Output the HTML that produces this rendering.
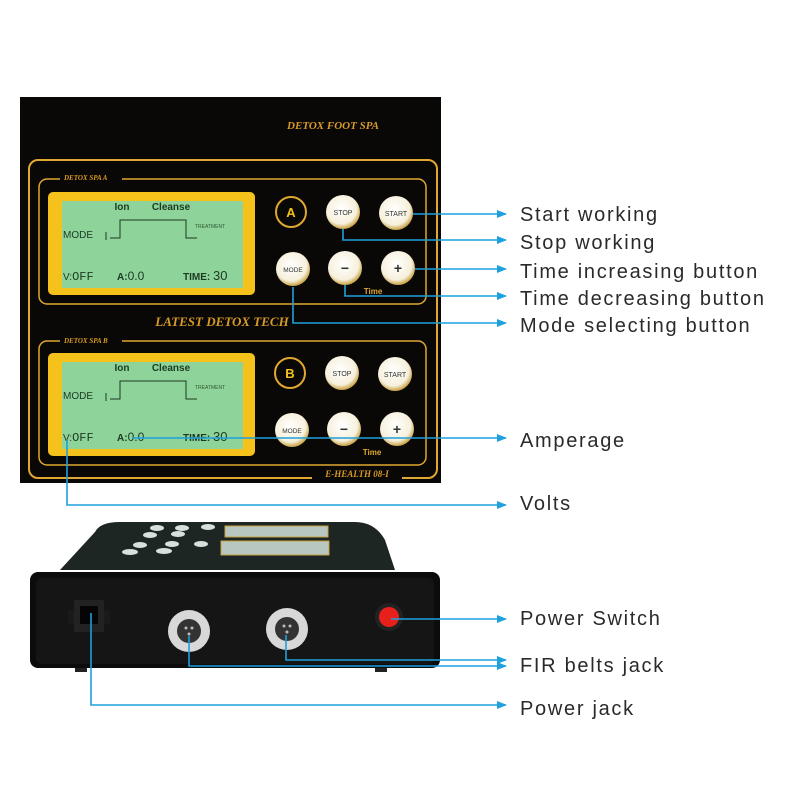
<!DOCTYPE html>
<html><head><style>
body{margin:0;background:#fff;width:800px;height:800px;overflow:hidden;font-family:"Liberation Sans",sans-serif}
.lbl{position:absolute;left:520px;font-size:20px;color:#2a2a2a;letter-spacing:1.7px;line-height:1}
</style></head><body>
<svg width="800" height="800" style="position:absolute;left:0;top:0" font-family="Liberation Sans, sans-serif">
<defs>
<radialGradient id="btn" cx="45%" cy="40%" r="60%"><stop offset="0" stop-color="#fff"/><stop offset="0.75" stop-color="#f6f0dc"/><stop offset="1" stop-color="#c8a040"/></radialGradient>
<marker id="ar" markerWidth="10" markerHeight="8" refX="9" refY="4" orient="auto" markerUnits="userSpaceOnUse"><path d="M0,0 L10,4 L0,8 Z" fill="#1ea0dc"/></marker>
</defs>
<rect x="20" y="97" width="421" height="386" fill="#0a0806"/>
<text x="333" y="129" fill="#d89a28" font-size="11" font-style="italic" font-weight="bold" font-family="Liberation Serif, serif" text-anchor="middle">DETOX  FOOT SPA</text>
<rect x="29" y="160" width="408" height="318" rx="9" fill="none" stroke="#e0a830" stroke-width="2"/>
<rect x="39" y="179" width="387" height="125" rx="8" fill="none" stroke="#e0a830" stroke-width="1.5"/>
<rect x="39" y="341" width="387" height="124" rx="8" fill="none" stroke="#e0a830" stroke-width="1.5"/>
<rect x="60" y="172" width="62" height="12" fill="#0a0806"/>
<text x="64" y="180" fill="#d89a28" font-size="7" font-style="italic" font-weight="bold" font-family="Liberation Serif, serif">DETOX SPA A</text>
<rect x="60" y="334" width="62" height="12" fill="#0a0806"/>
<text x="64" y="343" fill="#d89a28" font-size="7" font-style="italic" font-weight="bold" font-family="Liberation Serif, serif">DETOX SPA B</text>
<text x="222" y="326" fill="#d89a28" font-size="13" font-style="italic" font-weight="bold" font-family="Liberation Serif, serif" text-anchor="middle">LATEST DETOX  TECH</text>
<rect x="312" y="468" width="90" height="12" fill="#0a0806"/>
<text x="357" y="477" fill="#d89a28" font-size="9" font-style="italic" font-weight="bold" font-family="Liberation Serif, serif" text-anchor="middle">E-HEALTH 08-I</text>
<g id="lcdA">
<rect x="48" y="192" width="207" height="103" rx="5" fill="#f4c21a"/>
<rect x="62" y="201" width="181" height="87" fill="#8ed39a"/>
<text x="122" y="210" font-size="10" font-weight="bold" fill="#1c3a22" text-anchor="middle">Ion</text>
<text x="171" y="210" font-size="10" font-weight="bold" fill="#1c3a22" text-anchor="middle">Cleanse</text>
<text x="63" y="238" font-size="10" fill="#1c3a22">MODE</text>
<path d="M106,240 V232 M110,238 H120 V220 H186 V238 H197" stroke="#1c3a22" fill="none" stroke-width="1"/>
<text x="195" y="228" font-size="5" fill="#2c5a32">TREATMENT</text>
<text x="63" y="280" font-size="10" fill="#1c3a22">V:<tspan font-size="12" font-family="Liberation Mono,monospace">OFF</tspan></text>
<text x="117" y="280" font-size="10" font-weight="bold" fill="#1c3a22">A:<tspan font-weight="normal" font-size="12">0.0</tspan></text>
<text x="183" y="280" font-size="10" font-weight="bold" fill="#1c3a22">TIME: <tspan font-weight="normal" font-size="13">30</tspan></text>
</g>
<use href="#lcdA" y="161"/>
<g>
<circle cx="291" cy="212" r="15" fill="none" stroke="#e0a830" stroke-width="2"/>
<text x="291" y="217" font-size="13" font-weight="bold" fill="#f4c21a" text-anchor="middle">A</text>
<circle cx="343" cy="212" r="17" fill="url(#btn)"/><text x="343" y="215" font-size="7" fill="#333" text-anchor="middle">STOP</text>
<circle cx="396" cy="213" r="17" fill="url(#btn)"/><text x="396" y="216" font-size="7" fill="#333" text-anchor="middle">START</text>
<circle cx="293" cy="269" r="17" fill="url(#btn)"/><text x="293" y="272" font-size="6.5" fill="#333" text-anchor="middle">MODE</text>
<circle cx="345" cy="268" r="17" fill="url(#btn)"/><text x="345" y="273" font-size="14" font-weight="bold" fill="#333" text-anchor="middle">−</text>
<circle cx="398" cy="268" r="17" fill="url(#btn)"/><text x="398" y="273" font-size="14" font-weight="bold" fill="#333" text-anchor="middle">+</text>
<text x="373" y="294" font-size="8" font-weight="bold" fill="#e0a830" text-anchor="middle">Time</text>
</g>
<g transform="translate(-1,161)">
<circle cx="291" cy="212" r="15" fill="none" stroke="#e0a830" stroke-width="2"/>
<text x="291" y="217" font-size="13" font-weight="bold" fill="#f4c21a" text-anchor="middle">B</text>
<circle cx="343" cy="212" r="17" fill="url(#btn)"/><text x="343" y="215" font-size="7" fill="#333" text-anchor="middle">STOP</text>
<circle cx="396" cy="213" r="17" fill="url(#btn)"/><text x="396" y="216" font-size="7" fill="#333" text-anchor="middle">START</text>
<circle cx="293" cy="269" r="17" fill="url(#btn)"/><text x="293" y="272" font-size="6.5" fill="#333" text-anchor="middle">MODE</text>
<circle cx="345" cy="268" r="17" fill="url(#btn)"/><text x="345" y="273" font-size="14" font-weight="bold" fill="#333" text-anchor="middle">−</text>
<circle cx="398" cy="268" r="17" fill="url(#btn)"/><text x="398" y="273" font-size="14" font-weight="bold" fill="#333" text-anchor="middle">+</text>
<text x="373" y="294" font-size="8" font-weight="bold" fill="#e0a830" text-anchor="middle">Time</text>
</g>
<path d="M95,532 Q100,522 120,522 L355,522 Q375,522 385,540 L395,570 L60,570 Z" fill="#1d2622"/>
<g fill="#d8e0dc"><ellipse cx="157" cy="528" rx="7" ry="3"/><ellipse cx="182" cy="528" rx="7" ry="3"/><ellipse cx="208" cy="527" rx="7" ry="3"/>
<ellipse cx="150" cy="535" rx="7" ry="3"/><ellipse cx="178" cy="534" rx="7" ry="3"/>
<ellipse cx="140" cy="545" rx="7" ry="3"/><ellipse cx="172" cy="544" rx="7" ry="3"/><ellipse cx="201" cy="544" rx="7" ry="3"/>
<ellipse cx="130" cy="552" rx="8" ry="3"/><ellipse cx="164" cy="551" rx="8" ry="3"/></g>
<rect x="225" y="526" width="103" height="11" fill="#b8c8c0" stroke="#c8a040"/>
<rect x="221" y="541" width="108" height="14" fill="#b8c8c0" stroke="#c8a040"/>
<rect x="30" y="572" width="410" height="96" rx="8" fill="#0c0c0c"/>
<rect x="36" y="578" width="398" height="86" rx="6" fill="#151515"/>
<rect x="74" y="600" width="30" height="32" fill="#222"/><rect x="80" y="606" width="18" height="18" fill="#050505"/>
<rect x="68" y="610" width="6" height="14" fill="#1a1a1a"/><rect x="104" y="610" width="6" height="14" fill="#1a1a1a"/>
<circle cx="189" cy="631" r="21" fill="#d8d8d8"/><circle cx="189" cy="631" r="12" fill="#333"/>
<circle cx="287" cy="629" r="21" fill="#d8d8d8"/><circle cx="287" cy="629" r="12" fill="#333"/>
<g fill="#bbb"><circle cx="186" cy="628" r="1.5"/><circle cx="192" cy="628" r="1.5"/><circle cx="189" cy="634" r="1.5"/><circle cx="284" cy="626" r="1.5"/><circle cx="290" cy="626" r="1.5"/><circle cx="287" cy="632" r="1.5"/></g>
<circle cx="389" cy="617" r="14" fill="#222"/><circle cx="389" cy="617" r="10" fill="#e8201c"/>
<rect x="75" y="668" width="12" height="4" fill="#222"/><rect x="375" y="668" width="12" height="4" fill="#222"/>
<g stroke="#1ea0dc" stroke-width="1.6" fill="none" marker-end="url(#ar)">
<path d="M413,214 H506"/>
<path d="M343,229 V240 H506"/>
<path d="M415,269 H506"/>
<path d="M345,285 V296 H506"/>
<path d="M293,287 V323 H506"/>
<path d="M132,438 H506"/>
<path d="M67,440 V505 H506"/>
<path d="M391,619 H506"/>
<path d="M286,635 V660 H506"/>
<path d="M189,636 V666 H506"/>
<path d="M91,613 V705 H506"/>
</g>
</svg>
<div class="lbl" style="top:205px">Start working</div>
<div class="lbl" style="top:233px">Stop working</div>
<div class="lbl" style="top:262px">Time increasing button</div>
<div class="lbl" style="top:289px">Time decreasing button</div>
<div class="lbl" style="top:316px">Mode selecting button</div>
<div class="lbl" style="top:431px">Amperage</div>
<div class="lbl" style="top:494px">Volts</div>
<div class="lbl" style="top:609px">Power Switch</div>
<div class="lbl" style="top:656px">FIR belts jack</div>
<div class="lbl" style="top:699px">Power jack</div>
</body></html>
